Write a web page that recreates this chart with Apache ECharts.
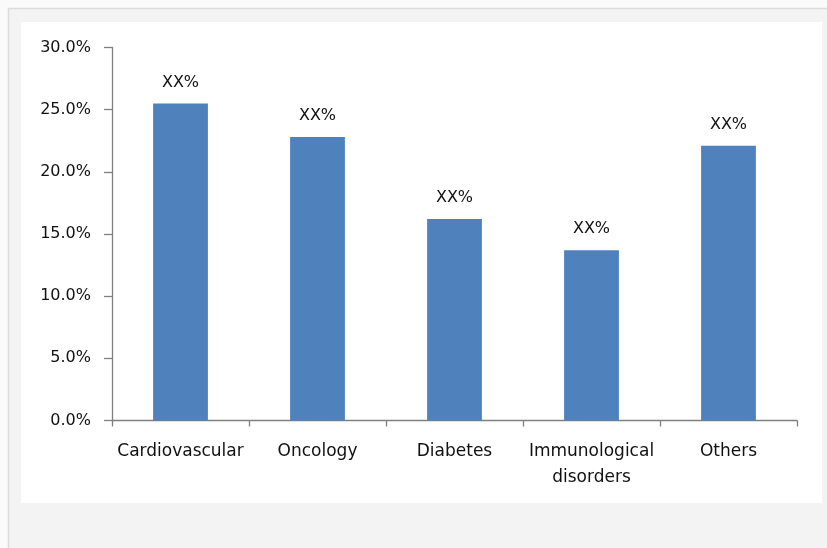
<!DOCTYPE html>
<html>
<head>
<meta charset="utf-8">
<script src="https://cdn.jsdelivr.net/npm/echarts@6/dist/echarts.min.js"></script>
<style>
html,body{margin:0;padding:0;background:#f3f3f3;}
#chart{width:827px;height:548px;}
</style>
</head>
<body>
<div id="chart"></div>
<script>
const categories = ['Cardiovascular', 'Oncology', 'Diabetes', 'Immunological\ndisorders', 'Others'];
const values = [25.5, 22.8, 16.2, 13.7, 22.1];
const barLabels = ['XX%', 'XX%', 'XX%', 'XX%', 'XX%'];

const chart = echarts.init(document.getElementById('chart'), null, {renderer: 'canvas'});
const FONT = 'DejaVu Sans';
chart.setOption({
  backgroundColor: '#f3f3f3',
  animation: false,
  graphic: [
    {type: 'rect', z: -10, shape: {x: 0, y: 0, width: 827, height: 8}, style: {fill: '#fafafa'}},
    {type: 'rect', z: -10, shape: {x: 0, y: 0, width: 8, height: 548}, style: {fill: '#fafafa'}},
    {type: 'line', z: -9, shape: {x1: 8, y1: 8.5, x2: 827, y2: 8.5}, style: {stroke: '#dcdcdc', lineWidth: 1.5}},
    {type: 'line', z: -9, shape: {x1: 8.5, y1: 8, x2: 8.5, y2: 548}, style: {stroke: '#dcdcdc', lineWidth: 1.5}},
    {type: 'rect', z: -8, shape: {x: 21, y: 22, width: 801, height: 481}, style: {fill: '#ffffff'}}
  ],
  grid: {left: 112, right: 30, top: 47.5, bottom: 127.5, containLabel: false},
  xAxis: {
    type: 'category',
    data: categories,
    axisLine: {lineStyle: {color: '#808080', width: 1.3}},
    axisTick: {show: true, length: 6, lineStyle: {color: '#808080', width: 1.3}},
    axisLabel: {color: '#111', fontFamily: FONT, fontSize: 17, margin: 18, lineHeight: 26, interval: 0}
  },
  yAxis: {
    type: 'value',
    min: 0, max: 30, interval: 5,
    splitLine: {show: false},
    axisLine: {show: true, lineStyle: {color: '#808080', width: 1.3}},
    axisTick: {show: true, length: 8, lineStyle: {color: '#808080', width: 1.3}},
    axisLabel: {color: '#111', fontFamily: FONT, fontSize: 16, margin: 21,
      formatter: v => v.toFixed(1) + '%'}
  },
  series: [{
    type: 'bar',
    data: values,
    barWidth: '40%',
    itemStyle: {color: '#4f81bd'},
    label: {
      show: true, position: 'top', distance: 13,
      color: '#111', fontFamily: FONT, fontSize: 16,
      formatter: p => barLabels[p.dataIndex]
    }
  }]
});
</script>
</body>
</html>
